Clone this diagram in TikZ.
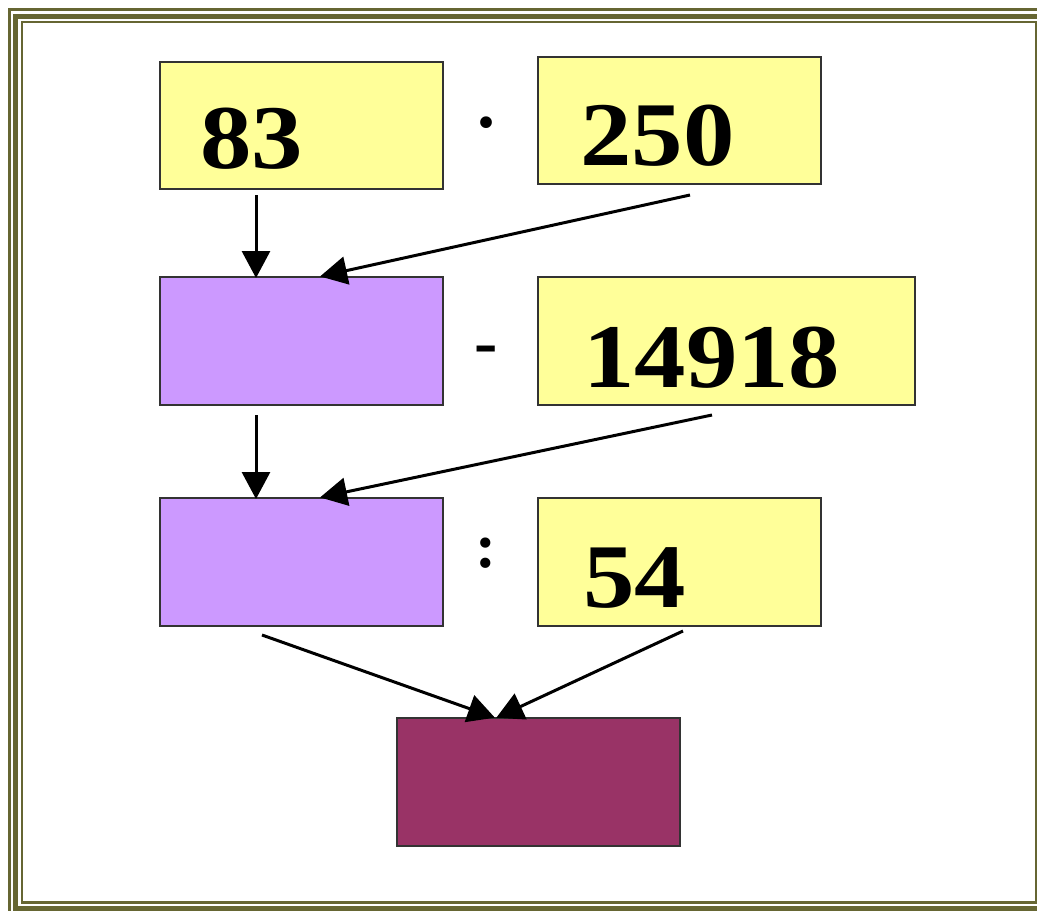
\documentclass[tikz,border=0pt]{standalone}
\usepackage{fontspec}
\setmainfont{Liberation Serif}
\newfontfamily\numfont[FakeStretch=1.13]{Liberation Serif}
\usetikzlibrary{arrows.meta}
\definecolor{frameolive}{HTML}{666633}
\definecolor{boxyellow}{HTML}{FFFF99}
\definecolor{boxlilac}{HTML}{CC99FF}
\definecolor{boxmaroon}{HTML}{993366}
\definecolor{boxedge}{HTML}{333333}

\begin{document}
\begin{tikzpicture}[x=1pt, y=-1pt,
    numbox/.style={draw=boxedge, line width=2pt, fill=boxyellow, inner sep=0pt,
        minimum width=283pt, minimum height=127pt},
    midbox/.style={numbox, fill=boxlilac},
    endbox/.style={numbox, fill=boxmaroon},
    num/.style={anchor=base west, inner sep=0pt, font=\numfont\fontsize{91}{91}\selectfont\bfseries},
    op/.style={anchor=base west, inner sep=0pt},
    arr/.style={line width=3pt, shorten >=-2pt, -{Triangle[length=27pt, width=28pt]}}]
    \useasboundingbox (0,0) rectangle (1037,911);
    \clip (0,0) rectangle (1037,911);

    % frame
    \draw [frameolive, line width=3pt] (9,9.5) rectangle (1049,915);
    \draw [frameolive, line width=5pt] (15.5,16.5) rectangle (1042.5,908.5);
    \draw [frameolive, line width=2.5pt] (22,22) rectangle (1036,902.5);

    % first row
    \node [numbox] (n83) at (301.5,125.5) {};
    \node [num] (t83) at (200,168) {83};
    \node [op, font=\fontsize{72}{72}\selectfont\bfseries] (mul) at (477,127) {.};
    \node [numbox] (n250) at (679.5,120.5) {};
    \node [num] (t250) at (580,165) {250};

    % second row
    \node [midbox, minimum height=128pt] (res1) at (301.5,341) {};
    \node [op, font=\fontsize{70}{70}\selectfont\bfseries] (minus) at (474.5,365) {-};
    \node [numbox, minimum width=377pt, minimum height=128pt] (n14918) at (726.5,341) {};
    \node [num] (t14918) at (583,387) {14918};

    % third row
    \node [midbox, minimum height=128pt] (res2) at (301.5,562) {};
    \node [op, font=\fontsize{63}{63}\selectfont\bfseries] (div) at (475.5,567.5) {:};
    \node [numbox, minimum height=128pt] (n54) at (679.5,562) {};
    \node [num] (t54) at (583,607) {54};

    % result
    \node [endbox, minimum height=128pt] (res3) at (538.5,782) {};

    \draw [arr] ([xshift=-45.5pt, yshift=-5pt]n83.south) -- ([xshift=-45.5pt]res1.north);
    \draw [arr] ([xshift=10.5pt, yshift=-10pt]n250.south) -- ([xshift=20.5pt]res1.north);
    \draw [arr] ([xshift=-45.5pt, yshift=-9pt]res1.south) -- ([xshift=-45.5pt]res2.north);
    \draw [arr] ([xshift=-14.5pt, yshift=-9pt]n14918.south) -- ([xshift=20.5pt]res2.north);
    \draw [arr] ([xshift=-39.5pt, yshift=-8pt]res2.south) -- ([xshift=-45.5pt]res3.north);
    \draw [arr] ([xshift=3.5pt, yshift=-4pt]n54.south) -- ([xshift=-40.5pt]res3.north);
\end{tikzpicture}
\end{document}
